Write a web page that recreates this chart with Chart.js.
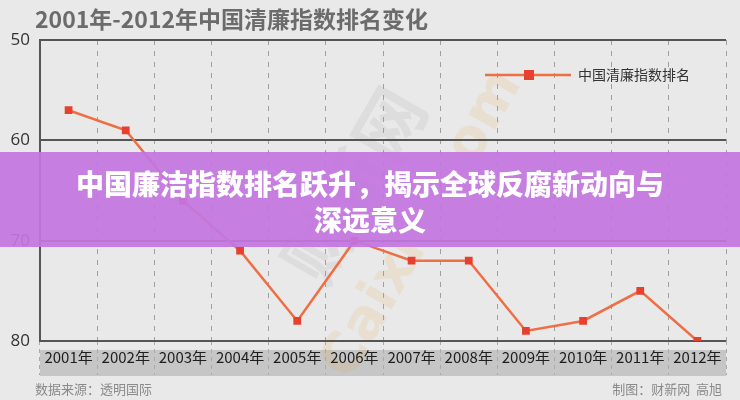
<!DOCTYPE html>
<html>
<head>
<meta charset="utf-8">
<script src="https://cdn.jsdelivr.net/npm/chart.js@4"></script>
<style>
html,body{margin:0;padding:0;background:#e9e9e9;}
canvas{display:block;}
</style>
</head>
<body>
<canvas id="c" width="740" height="400"></canvas>
<script>
const years = ['2001年','2002年','2003年','2004年','2005年','2006年','2007年','2008年','2009年','2010年','2011年','2012年'];
const ranks = [57, 59, 66, 71, 78, 70, 72, 72, 79, 78, 75, 80];
const seriesName = '中国清廉指数排名';
const yTicks = [50, 60, 70, 80];
const chartTitle = '2001年-2012年中国清廉指数排名变化';
const sourceText = '数据来源：透明国际';
const creditText = '制图：财新网  高旭';
const bannerLines = ['中国廉洁指数排名跃升，揭示全球反腐新动向与', '深远意义'];

const FONT = '"Noto Sans CJK SC", "Noto Sans", sans-serif';

const bgPlugin = {
  id: 'bg',
  beforeDraw(chart) {
    const ctx = chart.ctx, a = chart.chartArea;
    ctx.save();
    ctx.fillStyle = '#e9e9e9';
    ctx.fillRect(0, 0, chart.width, chart.height);
    // x label band
    ctx.fillStyle = '#c6c6c6';
    ctx.fillRect(a.left, a.bottom + 9, a.right - a.left, 26);
    // watermark
    ctx.translate(380, 200);
    ctx.rotate(-Math.PI / 3);
    ctx.font = 'bold 70px ' + FONT;
    ctx.fillStyle = 'rgba(150,150,150,0.13)';
    ctx.textAlign = 'center';
    ctx.textBaseline = 'middle';
    ctx.fillText('财新网', 0, -30);
    ctx.font = 'bold 56px "DejaVu Sans", sans-serif';
    ctx.fillStyle = 'rgba(230,160,60,0.14)';
    ctx.fillText('Caixin.com', 0, 50);
    ctx.restore();
  },
  afterDraw(chart) {
    const ctx = chart.ctx;
    ctx.save();
    // title
    ctx.font = 'bold 23px ' + FONT;
    ctx.fillStyle = '#6b6b6b';
    ctx.textAlign = 'left';
    ctx.textBaseline = 'middle';
    ctx.fillText(chartTitle, 35, 19);
    // legend
    ctx.strokeStyle = '#ef6f44';
    ctx.lineWidth = 2.5;
    ctx.beginPath();
    ctx.moveTo(485, 75); ctx.lineTo(571, 75); ctx.stroke();
    ctx.fillStyle = '#e8402e';
    ctx.fillRect(524, 70, 10, 10);
    ctx.font = '14px ' + FONT;
    ctx.fillStyle = '#333';
    ctx.fillText(seriesName, 578, 75);
    // footer
    ctx.font = '13px ' + FONT;
    ctx.fillStyle = '#8a8a8a';
    ctx.textAlign = 'left';
    ctx.fillText(sourceText, 35, 389);
    ctx.textAlign = 'right';
    ctx.fillText(creditText, 722, 389);
    // banner
    ctx.fillStyle = 'rgba(195,118,224,0.93)';
    ctx.fillRect(0, 152, 740, 95);
    ctx.font = '900 28px ' + FONT;
    ctx.fillStyle = '#ffffff';
    ctx.textAlign = 'center';
    bannerLines.forEach((t, i) => {
      ctx.fillText(t, 370, 184 + i * 36);
    });
    ctx.restore();
  }
};

new Chart(document.getElementById('c'), {
  type: 'line',
  data: {
    labels: years,
    datasets: [{
      label: seriesName,
      data: ranks,
      borderColor: '#ef6f44',
      borderWidth: 2.5,
      pointStyle: 'rect',
      pointRadius: 5.5,
      pointBackgroundColor: '#e8402e',
      pointBorderColor: '#e8402e',
      pointBorderWidth: 0,
      tension: 0,
      fill: false
    }]
  },
  options: {
    responsive: false,
    animation: false,
    devicePixelRatio: 1,
    layout: { padding: { top: 40, right: 14, bottom: 24, left: 0 } },
    plugins: { legend: { display: false }, tooltip: { enabled: false }, title: { display: false } },
    scales: {
      x: {
        offset: true,
        afterFit(s) { s.height = 35; },
        grid: {
          offset: true,
          color: '#a0a0a0',
          lineWidth: 1,
          drawTicks: true,
          tickLength: 34,
          tickColor: '#aaaaaa',
          tickBorderDash: [4, 4]
        },
        border: { display: false, dash: [5, 6] },
        ticks: {
          font: { family: FONT, size: 15 },
          color: '#1e1e1e',
          padding: -27,
          maxRotation: 0,
          autoSkip: false
        }
      },
      y: {
        reverse: true,
        min: 50,
        max: 80,
        afterFit(s) { s.width = 40; },
        afterBuildTicks(s) { s.ticks = yTicks.map(v => ({ value: v })); },
        grid: { color: '#555', lineWidth: 2, drawTicks: false },
        border: { display: true, color: '#555', width: 2 },
        ticks: {
          font: { family: '"Open Sans", "Noto Sans", sans-serif', size: 17 },
          color: '#333',
          padding: 10
        }
      }
    }
  },
  plugins: [bgPlugin]
});
</script>
</body>
</html>
